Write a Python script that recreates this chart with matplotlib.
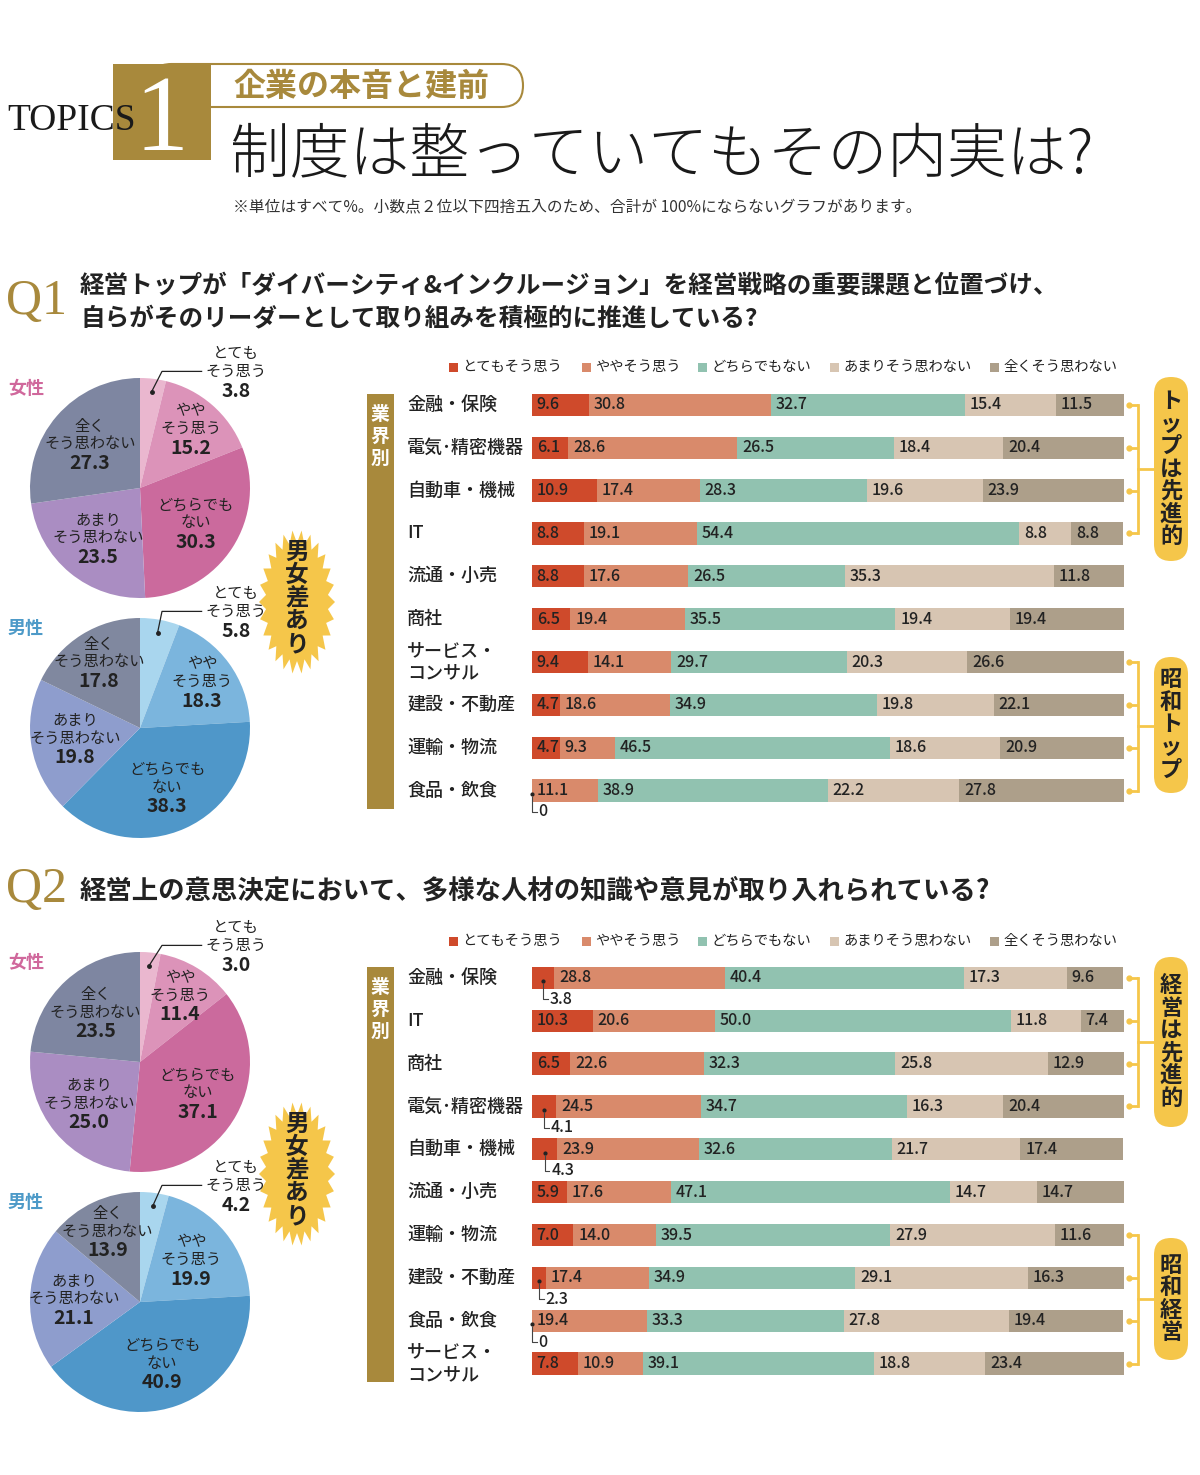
import matplotlib
matplotlib.use('Agg')
import matplotlib.pyplot as plt
from matplotlib.patches import Rectangle, FancyBboxPatch, Polygon
import numpy as np

plt.rcParams['font.family'] = ['Noto Sans CJK JP', 'DejaVu Sans']

W, H = 1200, 1475

# ---- データ ----
answers = ['とてもそう思う', 'ややそう思う', 'どちらでもない', 'あまりそう思わない', '全くそう思わない']
pie_names = ['とても\nそう思う', 'やや\nそう思う', 'どちらでも\nない', 'あまり\nそう思わない', '全く\nそう思わない']

q1_female = [3.8, 15.2, 30.3, 23.5, 27.3]
q1_male = [5.8, 18.3, 38.3, 19.8, 17.8]
q2_female = [3.0, 11.4, 37.1, 25.0, 23.5]
q2_male = [4.2, 19.9, 40.9, 21.1, 13.9]

q1_inds = ['金融・保険', '電気･精密機器', '自動車・機械', 'IT', '流通・小売', '商社',
           'サービス・\nコンサル', '建設・不動産', '運輸・物流', '食品・飲食']
q1_vals = [[9.6, 30.8, 32.7, 15.4, 11.5],
           [6.1, 28.6, 26.5, 18.4, 20.4],
           [10.9, 17.4, 28.3, 19.6, 23.9],
           [8.8, 19.1, 54.4, 8.8, 8.8],
           [8.8, 17.6, 26.5, 35.3, 11.8],
           [6.5, 19.4, 35.5, 19.4, 19.4],
           [9.4, 14.1, 29.7, 20.3, 26.6],
           [4.7, 18.6, 34.9, 19.8, 22.1],
           [4.7, 9.3, 46.5, 18.6, 20.9],
           [0, 11.1, 38.9, 22.2, 27.8]]

q2_inds = ['金融・保険', 'IT', '商社', '電気･精密機器', '自動車・機械', '流通・小売',
           '運輸・物流', '建設・不動産', '食品・飲食', 'サービス・\nコンサル']
q2_vals = [[3.8, 28.8, 40.4, 17.3, 9.6],
           [10.3, 20.6, 50.0, 11.8, 7.4],
           [6.5, 22.6, 32.3, 25.8, 12.9],
           [4.1, 24.5, 34.7, 16.3, 20.4],
           [4.3, 23.9, 32.6, 21.7, 17.4],
           [5.9, 17.6, 47.1, 14.7, 14.7],
           [7.0, 14.0, 39.5, 27.9, 11.6],
           [2.3, 17.4, 34.9, 29.1, 16.3],
           [0, 19.4, 33.3, 27.8, 19.4],
           [7.8, 10.9, 39.1, 18.8, 23.4]]

# ---- 色 ----
gold = '#a8893c'
yellow = '#f5c64a'
bar_cols = ['#cf4a2b', '#d98a6b', '#91c2b0', '#d7c5b2', '#ad9f8a']
female_cols = ['#eab7cf', '#dc93b9', '#cb6a9d', '#aa8dc2', '#7e86a1']
male_cols = ['#a9d6ee', '#7bb5dd', '#4f97c9', '#8e9dcd', '#80889f']
txt = '#222222'

fig = plt.figure(figsize=(12, 14.75), dpi=100)


def px_axes(x, y, w, h):
    return fig.add_axes([x / W, 1 - (y + h) / H, w / W, h / H])


# 背景レイヤー(ピクセル座標, y下向き)
bg = fig.add_axes([0, 0, 1, 1])
bg.set_xlim(0, W)
bg.set_ylim(H, 0)
bg.axis('off')


def vtext(x, yc, s, step, **kw):
    n = len(s)
    for j, ch in enumerate(s):
        bg.text(x, yc + (j - (n - 1) / 2) * step, ch, ha='center', va='center', **kw)


# ---- ヘッダー ----
bg.add_patch(FancyBboxPatch((150, 64), 373, 43, boxstyle='round,pad=0,rounding_size=21.5',
                            fc='white', ec=gold, lw=1.5))
bg.add_patch(Rectangle((113, 64), 98, 96, fc=gold, ec='none'))
bg.text(162, 150, '1', ha='center', va='baseline', fontsize=78, color='white',
        family='Liberation Serif')
bg.text(7, 130, 'TOPICS', ha='left', va='baseline', fontsize=27, color='#1a1a1a',
        family='Liberation Serif')
bg.text(233, 87, '企業の本音と建前', ha='left', va='center', fontsize=23, fontweight='bold',
        color=gold)
bg.text(230, 157, '制度は整っていてもその内実は?', ha='left', va='center', fontsize=43,
        fontweight='light', color='#1a1a1a')
bg.text(233, 207, '※単位はすべて%。小数点２位以下四捨五入のため、合計が 100%にならないグラフがあります。',
        ha='left', va='center', fontsize=11.3, color='#333333')

# ---- 設問 ----
bg.text(6, 302, 'Q1', ha='left', va='center', fontsize=36, color=gold, family='Liberation Serif')
bg.text(80, 286, '経営トップが「ダイバーシティ&インクルージョン」を経営戦略の重要課題と位置づけ、',
        ha='left', va='center', fontsize=17.7, fontweight='bold', color=txt)
bg.text(80, 319, '自らがそのリーダーとして取り組みを積極的に推進している?',
        ha='left', va='center', fontsize=17.7, fontweight='bold', color=txt)
bg.text(6, 890, 'Q2', ha='left', va='center', fontsize=36, color=gold, family='Liberation Serif')
bg.text(80, 891, '経営上の意思決定において、多様な人材の知識や意見が取り入れられている?',
        ha='left', va='center', fontsize=19, fontweight='bold', color=txt)


# ---- 円グラフ ----
def pie_block(cx, cy, vals, cols, title, tcol):
    bg.text(8, cy - 100, title, ha='left', va='center', fontsize=13, fontweight='bold', color=tcol)
    ax = px_axes(cx - 110, cy - 110, 220, 220)
    wedges, _ = ax.pie(vals, colors=cols, startangle=90, counterclock=False, radius=1,
                       wedgeprops=dict(linewidth=0))
    ax.set_xlim(-1, 1)
    ax.set_ylim(-1, 1)
    ax.set_aspect('equal')
    ax.axis('off')
    for k in range(1, 5):
        w = wedges[k]
        mid = np.deg2rad((w.theta1 + w.theta2) / 2)
        r = 0.7 if vals[k] < 19 else 0.6
        x, y = r * np.cos(mid), r * np.sin(mid)
        l1, l2 = pie_names[k].split('\n')
        ax.text(x, y + 0.17, l1, ha='center', va='center', fontsize=11, color=txt)
        ax.text(x, y + 0.01, l2, ha='center', va='center', fontsize=11, color=txt)
        ax.text(x, y - 0.17, f'{vals[k]:.1f}', ha='center', va='center', fontsize=14,
                fontweight='bold', color=txt)
    # とても: 引き出し線
    w = wedges[0]
    mid = np.deg2rad((w.theta1 + w.theta2) / 2)
    dx, dy = 0.88 * np.cos(mid), 0.88 * np.sin(mid)
    ax.plot([dx], [dy], marker='o', ms=2.5, color=txt, clip_on=False)
    ax.plot([dx, 0.2, 0.56], [dy, 1.06, 1.06], color=txt, lw=0.9, clip_on=False)
    l1, l2 = pie_names[0].split('\n')
    ax.text(0.87, 1.22, l1, ha='center', va='center', fontsize=11, color=txt)
    ax.text(0.87, 1.06, l2, ha='center', va='center', fontsize=11, color=txt)
    ax.text(0.87, 0.88, f'{vals[0]:.1f}', ha='center', va='center', fontsize=14,
            fontweight='bold', color=txt)


pie_block(140, 488, q1_female, female_cols, '女性', '#d0689c')
pie_block(140, 728, q1_male, male_cols, '男性', '#4d9ac8')
pie_block(140, 1062, q2_female, female_cols, '女性', '#d0689c')
pie_block(140, 1302, q2_male, male_cols, '男性', '#4d9ac8')


# 男女差あり(ギザギザ)
def burst(cx, cy):
    n = 26
    t = np.linspace(0, 2 * np.pi, 2 * n, endpoint=False)
    r = np.where(np.arange(2 * n) % 2 == 0, 1.0, 0.82)
    pts = np.column_stack([cx + 38 * r * np.cos(t), cy + 72 * r * np.sin(t)])
    bg.add_patch(Polygon(pts, closed=True, fc=yellow, ec='none'))
    vtext(cx, cy - 4, '男女差あり', 23, fontsize=17, fontweight='bold', color=txt)


burst(297, 602)
burst(297, 1174)


# ---- 帯グラフ ----
ROW = 42.85


def bar_block(top, inds, vals, legend_y, groups):
    # 凡例
    for xs, lab, c in zip([449, 582, 698, 830, 990], answers, bar_cols):
        bg.add_patch(Rectangle((xs, legend_y - 4.5), 9, 9, fc=c, ec='none'))
        bg.text(xs + 13, legend_y, lab, ha='left', va='center', fontsize=10.3, color=txt)
    # 業界別
    bg.add_patch(Rectangle((367, top + 10), 27, ROW * 10 - 13, fc=gold, ec='none'))
    vtext(380, top + 53, '業界別', 22, fontsize=13.5, fontweight='bold', color='white')
    for i, name in enumerate(inds):
        bg.text(407, top + (i + 0.5) * ROW, name, ha='left', va='center', fontsize=13,
                fontweight='medium', color=txt, linespacing=1.35)

    ax = px_axes(532, top, 592, ROW * 10)
    ax.set_xlim(0, 100)
    ax.set_ylim(9.5, -0.5)
    ax.axis('off')
    v = np.array(vals, dtype=float)
    y = np.arange(len(inds))
    left = np.zeros(len(inds))
    for k in range(5):
        ax.barh(y, v[:, k], left=left, height=0.52, color=bar_cols[k], linewidth=0)
        for i in range(len(inds)):
            val = v[i, k]
            lab = '0' if val == 0 else f'{val:.1f}'
            if val >= 4.5:
                ax.text(left[i] + 0.8, i, lab, ha='left', va='center', fontsize=11.5,
                        fontweight='medium', color=txt)
            elif k == 0:
                m = left[i] + val / 2
                ax.plot([m], [i + 0.08], marker='o', ms=2, color=txt, clip_on=False)
                ax.plot([m, m, m + 0.8], [i + 0.14, i + 0.5, i + 0.5], color='#444444',
                        lw=0.8, clip_on=False)
                ax.text(m + 1.1, i + 0.5, lab, ha='left', va='center', fontsize=11.5,
                        fontweight='medium', color=txt)
        left += v[:, k]

    # 右の括弧とバッジ
    for r0, r1, label, y0, y1 in groups:
        for r in range(r0, r1 + 1):
            ax.plot([100.7, 102.4], [r, r], color=yellow, lw=2, clip_on=False,
                    solid_capstyle='butt')
            ax.plot([100.9], [r], marker='o', ms=3.5, color=yellow, clip_on=False)
        ax.plot([102.4, 102.4], [r0, r1], color=yellow, lw=2, clip_on=False)
        mid = (r0 + r1) / 2
        ax.plot([102.4, 105.2], [mid, mid], color=yellow, lw=2, clip_on=False)
        bg.add_patch(FancyBboxPatch((1154, y0), 34, y1 - y0,
                                    boxstyle='round,pad=0,rounding_size=17',
                                    fc=yellow, ec='none'))
        vtext(1171, (y0 + y1) / 2, label, 22.5, fontsize=16, fontweight='bold', color=txt)


bar_block(383.5, q1_inds, q1_vals, 367,
          [(0, 3, 'トップは先進的', 377, 561), (6, 9, '昭和トップ', 657, 793)])
bar_block(956.5, q2_inds, q2_vals, 941,
          [(0, 3, '経営は先進的', 957, 1127), (6, 9, '昭和経営', 1238, 1360)])

fig.savefig('out.png', dpi=100, facecolor='white')
